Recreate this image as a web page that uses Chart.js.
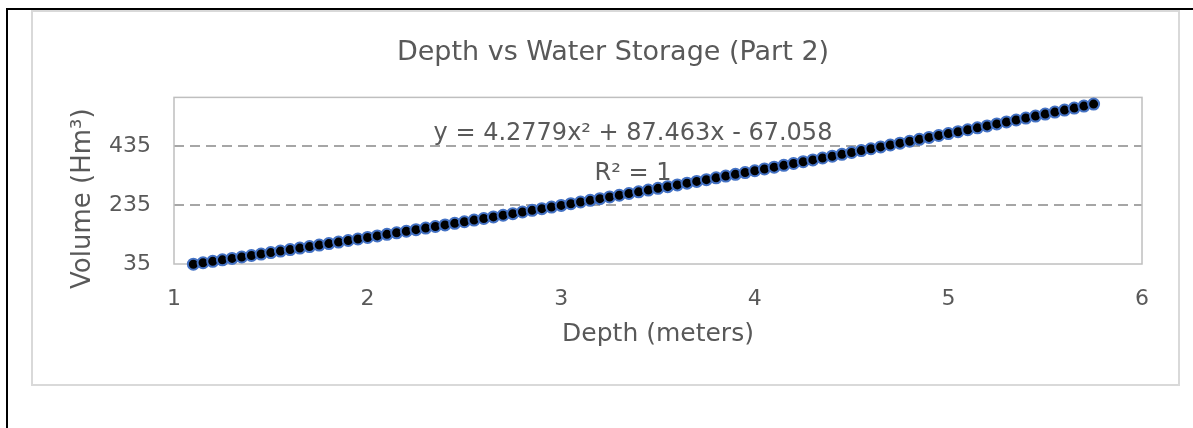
<!DOCTYPE html>
<html>
<head>
<meta charset="utf-8">
<script src="https://cdn.jsdelivr.net/npm/chart.js@4.4.1/dist/chart.umd.min.js"></script>
<style>
  body { margin: 0; background: #fff; width: 1193px; height: 428px; overflow: hidden; position: relative; }
  #frame { position: absolute; left: 6px; top: 8px; width: 1300px; height: 500px; border-left: 2px solid #000; border-top: 2px solid #000; }
  #box { position: absolute; left: 31px; top: 10px; width: 1145px; height: 372px; border: 2px solid #d9d9d9; background: #fff; }
  #box canvas { display: block; }
</style>
</head>
<body>
<div id="frame"></div>
<div id="box"><canvas id="storageChart"></canvas></div>
<script>
// depth in meters, volume in Hm3
const depth = [
  1.10, 1.15, 1.20, 1.25, 1.30, 1.35, 1.40, 1.45, 1.50, 1.55,
  1.60, 1.65, 1.70, 1.75, 1.80, 1.85, 1.90, 1.95, 2.00, 2.05,
  2.10, 2.15, 2.20, 2.25, 2.30, 2.35, 2.40, 2.45, 2.50, 2.55,
  2.60, 2.65, 2.70, 2.75, 2.80, 2.85, 2.90, 2.95, 3.00, 3.05,
  3.10, 3.15, 3.20, 3.25, 3.30, 3.35, 3.40, 3.45, 3.50, 3.55,
  3.60, 3.65, 3.70, 3.75, 3.80, 3.85, 3.90, 3.95, 4.00, 4.05,
  4.10, 4.15, 4.20, 4.25, 4.30, 4.35, 4.40, 4.45, 4.50, 4.55,
  4.60, 4.65, 4.70, 4.75, 4.80, 4.85, 4.90, 4.95, 5.00, 5.05,
  5.10, 5.15, 5.20, 5.25, 5.30, 5.35, 5.40, 5.45, 5.50, 5.55,
  5.60, 5.65, 5.70, 5.75
];
const volume = [
  34.3, 39.2, 44.1, 49.0, 53.9, 58.8, 63.8, 68.8, 73.8, 78.8,
  83.8, 88.9, 94.0, 99.1, 104.2, 109.4, 114.6, 119.8, 125.0, 130.2,
  135.5, 140.8, 146.1, 151.4, 156.7, 162.1, 167.5, 172.9, 178.3, 183.8,
  189.3, 194.8, 200.3, 205.8, 211.4, 217.0, 222.6, 228.2, 233.8, 239.5,
  245.2, 250.9, 256.6, 262.4, 268.2, 274.0, 279.8, 285.6, 291.5, 297.4,
  303.3, 309.2, 315.1, 321.1, 327.1, 333.1, 339.1, 345.2, 351.2, 357.3,
  363.5, 369.6, 375.8, 381.9, 388.1, 394.4, 400.6, 406.9, 413.2, 419.5,
  425.8, 432.1, 438.5, 444.9, 451.3, 457.8, 464.2, 470.7, 477.2, 483.7,
  490.3, 496.8, 503.4, 510.0, 516.7, 523.3, 530.0, 536.7, 543.4, 550.1,
  556.9, 563.7, 570.5, 577.3
];

const xTicks = [1, 2, 3, 4, 5, 6];
const volumeTicks = [35, 235, 435];

const chartTitle = "Depth vs Water Storage (Part 2)";
const xTitle = "Depth (meters)";
const yTitle = "Volume (Hm³)";
const trendEquation = "y = 4.2779x² + 87.463x - 67.058";
const trendR2 = "R² = 1";

const points = [];
for (let i = 0; i < depth.length; i++) {
  points.push({ x: depth[i], y: volume[i] });
}

const textColour = "#595959";
const font = '"DejaVu Sans", "Liberation Sans", sans-serif';

// grey frame round the plot area and the trendline label, under the points
const plotFrame = {
  id: "plotFrame",
  beforeDatasetsDraw(chart) {
    const { ctx, chartArea: a } = chart;
    ctx.save();
    ctx.strokeStyle = "#bfbfbf";
    ctx.lineWidth = 1.5;
    ctx.strokeRect(a.left, a.top, a.right - a.left, a.bottom - a.top);

    ctx.fillStyle = textColour;
    ctx.font = "24px " + font;
    ctx.textAlign = "center";
    ctx.textBaseline = "alphabetic";
    const cx = (a.left + a.right) / 2 - 25;
    ctx.fillText(trendEquation, cx, a.top + 43);
    ctx.fillText(trendR2, cx, a.top + 83);
    ctx.restore();
  },
  afterDraw(chart) {
    const { ctx, chartArea: a } = chart;
    ctx.save();
    ctx.fillStyle = textColour;
    ctx.font = "26px " + font;
    ctx.textAlign = "center";
    ctx.textBaseline = "middle";
    ctx.translate(50, (a.top + a.bottom) / 2 + 18);
    ctx.rotate(-Math.PI / 2);
    ctx.fillText(yTitle, 0, 0);
    ctx.restore();
  },
};

new Chart(document.querySelector("#storageChart").getContext("2d"), {
  type: "scatter",
  data: {
    datasets: [
      {
        label: "Volume",
        data: points,
        backgroundColor: "#000000",
        borderColor: "#4472c4",
        borderWidth: 2,
        pointRadius: 5.5,
        clip: false,
      },
    ],
  },
  options: {
    responsive: true,
    maintainAspectRatio: false,
    animation: false,
    // left padding only moves the title centre; the y axis width takes it back
    layout: { padding: { left: 51, right: 36, top: 0, bottom: 0 } },
    plugins: {
      legend: { display: false },
      tooltip: { enabled: false },
      title: {
        display: true,
        text: chartTitle,
        color: textColour,
        font: { family: font, size: 27, weight: "normal" },
        padding: { top: 25, bottom: 28 },
      },
    },
    scales: {
      x: {
        type: "linear",
        min: 1,
        max: 6,
        afterBuildTicks: (s) => {
          s.ticks = xTicks.map((v) => ({ value: v }));
        },
        afterFit: (s) => {
          s.height = 120;
        },
        grid: { display: false, drawTicks: false },
        border: { display: false },
        ticks: {
          color: textColour,
          font: { family: font, size: 22 },
          padding: 22,
          maxRotation: 0,
        },
        title: {
          display: true,
          text: xTitle,
          color: textColour,
          font: { family: font, size: 25 },
          padding: { top: 0, bottom: 35 },
        },
      },
      y: {
        type: "linear",
        min: 35,
        max: 600,
        afterBuildTicks: (s) => {
          s.ticks = volumeTicks.map((v) => ({ value: v }));
        },
        afterFit: (s) => {
          s.width = 90;
        },
        grid: {
          drawTicks: false,
          lineWidth: 2,
          color: (c) => (c.tick && c.tick.value === volumeTicks[0] ? "rgba(0,0,0,0)" : "#a6a6a6"),
        },
        border: { display: false, dash: [10, 6] },
        ticks: {
          color: textColour,
          font: { family: font, size: 22 },
          padding: 23,
        },
      },
    },
  },
  plugins: [plotFrame],
});
</script>
</body>
</html>
